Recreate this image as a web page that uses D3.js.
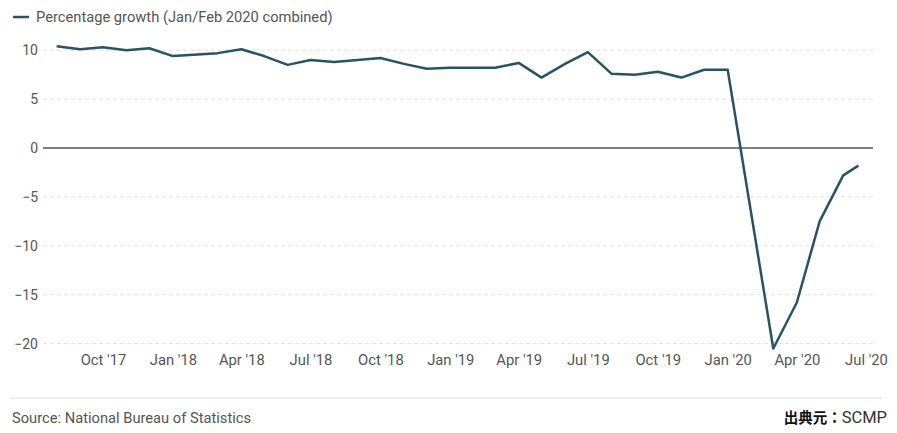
<!DOCTYPE html>
<html>
<head>
<meta charset="utf-8">
<script src="https://cdn.jsdelivr.net/npm/d3@7"></script>
<style>
  body { margin: 0; background: #fff; }
  svg { display: block; font-family: Roboto, "Noto Sans", sans-serif; }
</style>
</head>
<body>
<svg id="chart" width="897" height="433"></svg>
<script>
// month-end dates of each reading (Jan/Feb combined each year)
const dates = [
  "2017-08-01", "2017-09-01", "2017-10-01", "2017-11-01", "2017-12-01", "2018-01-01",
  "2018-03-01", "2018-04-01", "2018-05-01", "2018-06-01", "2018-07-01", "2018-08-01",
  "2018-09-01", "2018-10-01", "2018-11-01", "2018-12-01", "2019-01-01",
  "2019-03-01", "2019-04-01", "2019-05-01", "2019-06-01", "2019-07-01", "2019-08-01",
  "2019-09-01", "2019-10-01", "2019-11-01", "2019-12-01", "2020-01-01",
  "2020-03-01", "2020-04-01", "2020-05-01", "2020-06-01", "2020-06-21"
];
const growth = [
  10.4, 10.1, 10.3, 10.0, 10.2, 9.4,
  9.7, 10.1, 9.4, 8.5, 9.0, 8.8,
  9.0, 9.2, 8.6, 8.1, 8.2,
  8.2, 8.7, 7.2, 8.6, 9.8, 7.6,
  7.5, 7.8, 7.2, 8.0, 8.0,
  -20.5, -15.8, -7.5, -2.8, -1.8
];
const yTicks = [-20, -15, -10, -5, 0, 5, 10];
const xTicks = [
  "2017-10-01", "2018-01-01", "2018-04-01", "2018-07-01", "2018-10-01", "2019-01-01",
  "2019-04-01", "2019-07-01", "2019-10-01", "2020-01-01", "2020-04-01", "2020-07-01"
];
const legendLabel = "Percentage growth (Jan/Feb 2020 combined)";
const sourceLabel = "Source: National Bureau of Statistics";

const parse = d3.timeParse("%Y-%m-%d");
const data = dates.map((d, i) => ({ date: parse(d), value: growth[i] }));

const svg = d3.select("#chart");
const lineColor = "#285366";
const plotLeft = 43, plotRight = 873;

const x = d3.scaleTime()
  .domain([parse("2017-10-01"), parse("2020-07-01")])
  .range([103, 866]);

const y = d3.scaleLinear()
  .domain([-20, 10])
  .range([343.6, 50.2]);

// grid lines
svg.append("g")
  .selectAll("line")
  .data(yTicks)
  .join("line")
  .attr("x1", plotLeft)
  .attr("x2", plotRight)
  .attr("y1", d => y(d))
  .attr("y2", d => y(d))
  .attr("stroke", d => d === 0 ? "#555" : "#e0e0e0")
  .attr("stroke-width", d => d === 0 ? 1.5 : 1)
  .attr("stroke-dasharray", d => d === 0 ? null : "4,3");

// y labels
svg.append("g")
  .selectAll("text")
  .data(yTicks)
  .join("text")
  .attr("x", 38)
  .attr("y", d => y(d))
  .attr("dy", "0.35em")
  .attr("text-anchor", "end")
  .attr("font-size", 14)
  .attr("fill", "#555")
  .text(d => d < 0 ? "\u2212" + Math.abs(d) : d);

// x axis labels
const fmt = d3.timeFormat("%b '%y");
const xAxis = d3.axisBottom(x)
  .tickValues(xTicks.map(parse))
  .tickFormat(fmt)
  .tickSize(0)
  .tickPadding(0);

const xg = svg.append("g")
  .attr("transform", "translate(0,354)")
  .call(xAxis);
xg.select(".domain").remove();
xg.selectAll("text")
  .attr("font-size", 14.8)
  .attr("font-family", "Roboto, sans-serif")
  .attr("fill", "#555")
  .attr("dy", "0.71em");

// line
const line = d3.line()
  .x(d => x(d.date))
  .y(d => y(d.value));

svg.append("path")
  .datum(data)
  .attr("fill", "none")
  .attr("stroke", lineColor)
  .attr("stroke-width", 2.5)
  .attr("stroke-linejoin", "round")
  .attr("d", line);

// legend
svg.append("line")
  .attr("x1", 13).attr("x2", 29)
  .attr("y1", 17).attr("y2", 17)
  .attr("stroke", lineColor)
  .attr("stroke-width", 2.5);
svg.append("text")
  .attr("x", 36)
  .attr("y", 22)
  .attr("font-size", 14.7)
  .attr("fill", "#555")
  .text(legendLabel);

// footer
svg.append("line")
  .attr("x1", 10).attr("x2", 882)
  .attr("y1", 398).attr("y2", 398)
  .attr("stroke", "#ddd");

svg.append("text")
  .attr("x", 12)
  .attr("y", 423)
  .attr("font-size", 14.7)
  .attr("fill", "#555")
  .text(sourceLabel);

const credit = svg.append("text")
  .attr("x", 887)
  .attr("y", 423)
  .attr("text-anchor", "end");
credit.append("tspan")
  .attr("font-family", "'Noto Sans CJK JP', sans-serif")
  .attr("font-weight", "bold")
  .attr("font-size", 14.5)
  .attr("fill", "#111")
  .text("出典元：");
credit.append("tspan")
  .attr("font-size", 16.5)
  .attr("fill", "#333")
  .text("SCMP");
</script>
</body>
</html>
